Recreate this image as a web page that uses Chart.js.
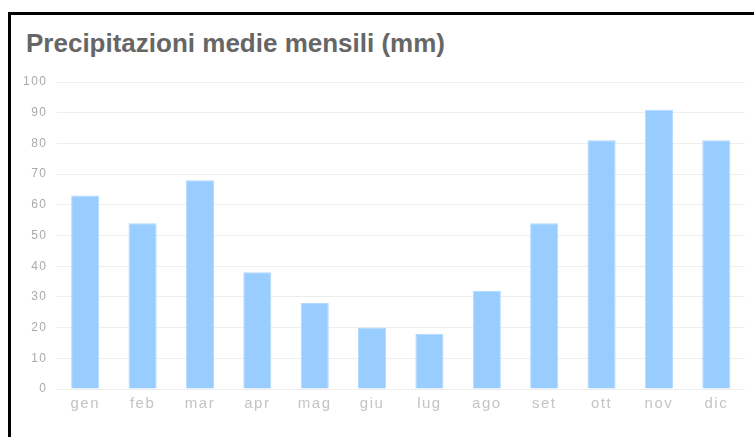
<!DOCTYPE html>
<html>
<head>
<meta charset="utf-8">
<script src="https://cdn.jsdelivr.net/npm/chart.js@4.4.0/dist/chart.umd.min.js"></script>
<style>
  body { margin: 0; background: #fff; overflow: hidden; }
  #box { position: absolute; left: 8px; top: 12px; width: 800px; height: 500px; border: 3px solid #000; }
  #c { position: absolute; left: 0; top: 0; }
  #title { position: absolute; left: 26px; top: 27px; font: bold 26px Arial, "Liberation Sans", sans-serif; color: #666; line-height: 32px; white-space: nowrap; }
</style>
</head>
<body>
<div id="box"></div>
<div id="title">Precipitazioni medie mensili (mm)</div>
<canvas id="c" width="754" height="437"></canvas>
<script>
const months = ['gen', 'feb', 'mar', 'apr', 'mag', 'giu', 'lug', 'ago', 'set', 'ott', 'nov', 'dic'];
const rainfall = [63, 54, 68, 38, 28, 20, 18, 32, 54, 81, 91, 81];

// wider spacing of the axis labels
const spacing = {
  id: 'spacing',
  beforeLayout(chart) { chart.ctx.letterSpacing = '1.5px'; },
  beforeDraw(chart) { chart.ctx.letterSpacing = '1.5px'; }
};

document.addEventListener('DOMContentLoaded', function() {
  const ctx = document.getElementById('c').getContext('2d');
  new Chart(ctx, {
    type: 'bar',
    data: {
      labels: months,
      datasets: [{
        data: rainfall,
        backgroundColor: '#99ccff',
        borderColor: '#b3d9ff',
        borderWidth: 1,
        barPercentage: 0.49,
        categoryPercentage: 1
      }]
    },
    plugins: [spacing],
    options: {
      responsive: false,
      animation: false,
      layout: { padding: { left: 14, right: 9, top: 82, bottom: 18 } },
      plugins: {
        legend: { display: false },
        tooltip: { enabled: false },
        title: { display: false }
      },
      scales: {
        x: {
          grid: { display: false, drawTicks: false },
          border: { display: false },
          ticks: { color: '#c4c4c4', font: { family: 'Arial, "Liberation Sans"', size: 15 }, padding: 6 }
        },
        y: {
          min: 0,
          max: 100,
          ticks: { stepSize: 10, color: '#aaa', font: { family: 'Arial, "Liberation Sans"', size: 12 }, padding: 9 },
          grid: { color: '#eee', drawTicks: false },
          border: { display: false }
        }
      }
    }
  });
});
</script>
</body>
</html>
